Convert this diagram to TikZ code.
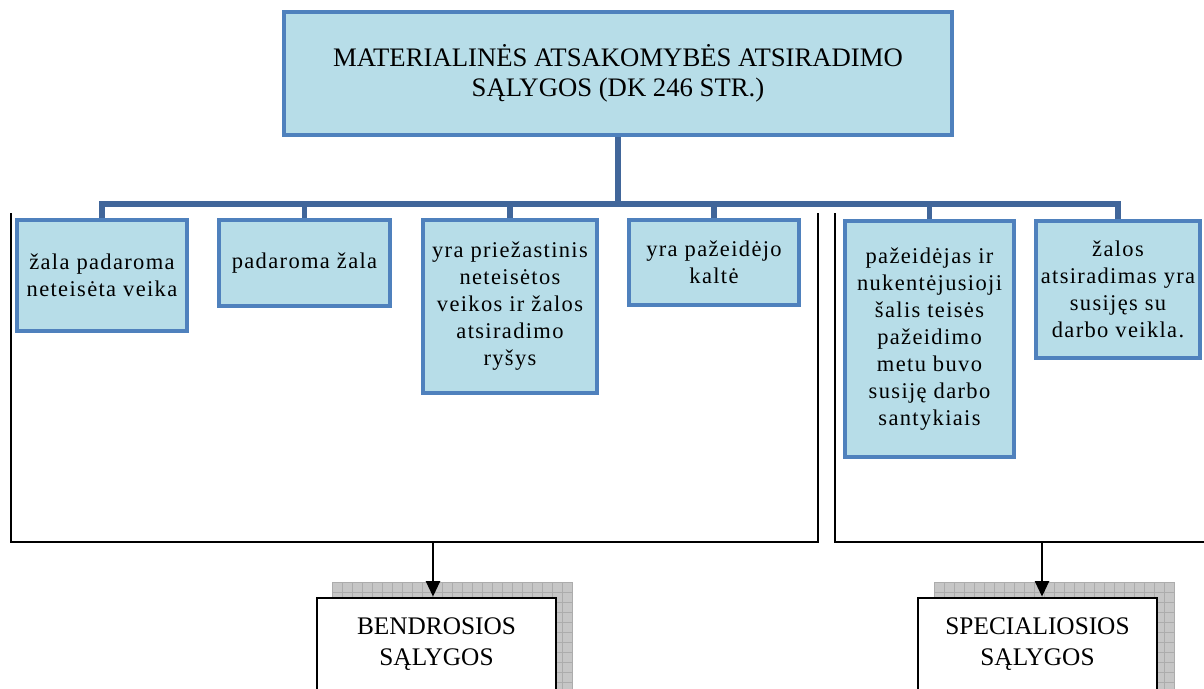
\documentclass[tikz,border=0pt]{standalone}
\usepackage{fontspec}
\setmainfont{Liberation Serif}
\newfontfamily\spacedserif[LetterSpace=6]{Liberation Serif}
\usepackage{xcolor}
\usetikzlibrary{positioning, arrows.meta}

\definecolor{boxfill}{HTML}{B7DDE8}
\definecolor{boxedge}{HTML}{4F81BD}
\definecolor{treeblue}{HTML}{41669A}

\begin{document}
\begin{tikzpicture}[x=0.25mm, y=-0.25mm]
            % Define styles for the boxes and lines
            \tikzstyle{condbox} = [draw=boxedge, fill=boxfill, line width=2.4pt, rectangle, inner sep=0pt, align=center, font=\spacedserif\fontsize{16}{19.2}\selectfont]
            \tikzstyle{groupbox} = [draw, fill=white, line width=2pt, rectangle, inner sep=0pt, minimum width=59.75mm, minimum height=23mm, align=center, font=\fontsize{18}{22}\selectfont]
            \tikzstyle{treeline} = [draw=treeblue, line width=4pt]
            \tikzstyle{bracket} = [draw, line width=1.7pt]
            \tikzstyle{gridline} = [draw=gray!65, line width=0.4pt]

            \useasboundingbox (0,0) rectangle (1204,688);

            % Hatched shadows behind the two group boxes
            \foreach \sx in {332,934} {
                \begin{scope}[shift={(\sx,582)}]
                    \fill[gray!45] (0,0) rectangle (240,110);
                    \foreach \gx in {0,10,...,240} \draw[gridline] (\gx,0) -- (\gx,110);
                    \foreach \gy in {0,10,...,110} \draw[gridline] (0,\gy) -- (240,\gy);
                \end{scope}
            }

            % Main node
            \node [condbox, minimum width=167mm, minimum height=30.75mm, font=\fontsize{19}{21}\selectfont] (conditions) at (618,73.5) {MATERIALINĖS ATSAKOMYBĖS ATSIRADIMO\\SĄLYGOS (DK 246 STR.)};

            % Nodes for the single conditions
            \node [condbox, minimum width=42.5mm, minimum height=27.75mm] (kid1) at (102,275.5) {žala padaroma\\neteisėta veika};
            \node [condbox, minimum width=42.75mm, minimum height=21.5mm] (kid2) at (304.5,263) {padaroma žala};
            \node [condbox, minimum width=43.5mm, minimum height=43.25mm] (kid3) at (510,306.5) {yra priežastinis\\neteisėtos\\veikos ir žalos\\atsiradimo\\ryšys};
            \node [condbox, minimum width=42.5mm, minimum height=21.25mm] (kid4) at (714,262.5) {yra pažeidėjo\\kaltė};
            \node [condbox, minimum width=42.25mm, minimum height=59mm] (kid5) at (929.5,339) {pažeidėjas ir\\nukentėjusioji\\šalis teisės\\pažeidimo\\metu buvo\\susiję darbo\\santykiais};
            \node [condbox, minimum width=41mm, minimum height=34.25mm] (kid6) at (1118,289.5) {žalos\\atsiradimas yra\\susijęs su\\darbo veikla.};

            % Tree connectors
            \coordinate (hub) at (618,204);
            \draw [treeline] (conditions.south) -- (hub);
            \foreach \kid in {kid1,kid2,kid3,kid4,kid5,kid6}
                \draw [treeline] (\kid.north) |- (hub);

            % Brackets grouping the conditions
            \draw [bracket] (11,213) -- (11,542) -- (818,542) -- (818,213);
            \draw [bracket] (835,213) -- (835,542) -- (1210,542);
            \coordinate (genfoot) at (433,542);
            \coordinate (specfoot) at (1042,542);

            % Group boxes
            \node [groupbox] (general) at (436.5,644) {BENDROSIOS\\SĄLYGOS};
            \node [groupbox] (special) at (1037.5,644) {SPECIALIOSIOS\\SĄLYGOS};

            % Arrows to the group boxes
            \draw [line width=1.4pt, -{Triangle[length=11pt, width=10pt]}] (genfoot) -- (genfoot |- general.north);
            \draw [line width=1.4pt, -{Triangle[length=11pt, width=10pt]}] (specfoot) -- (specfoot |- special.north);
        \end{tikzpicture}
\end{document}
